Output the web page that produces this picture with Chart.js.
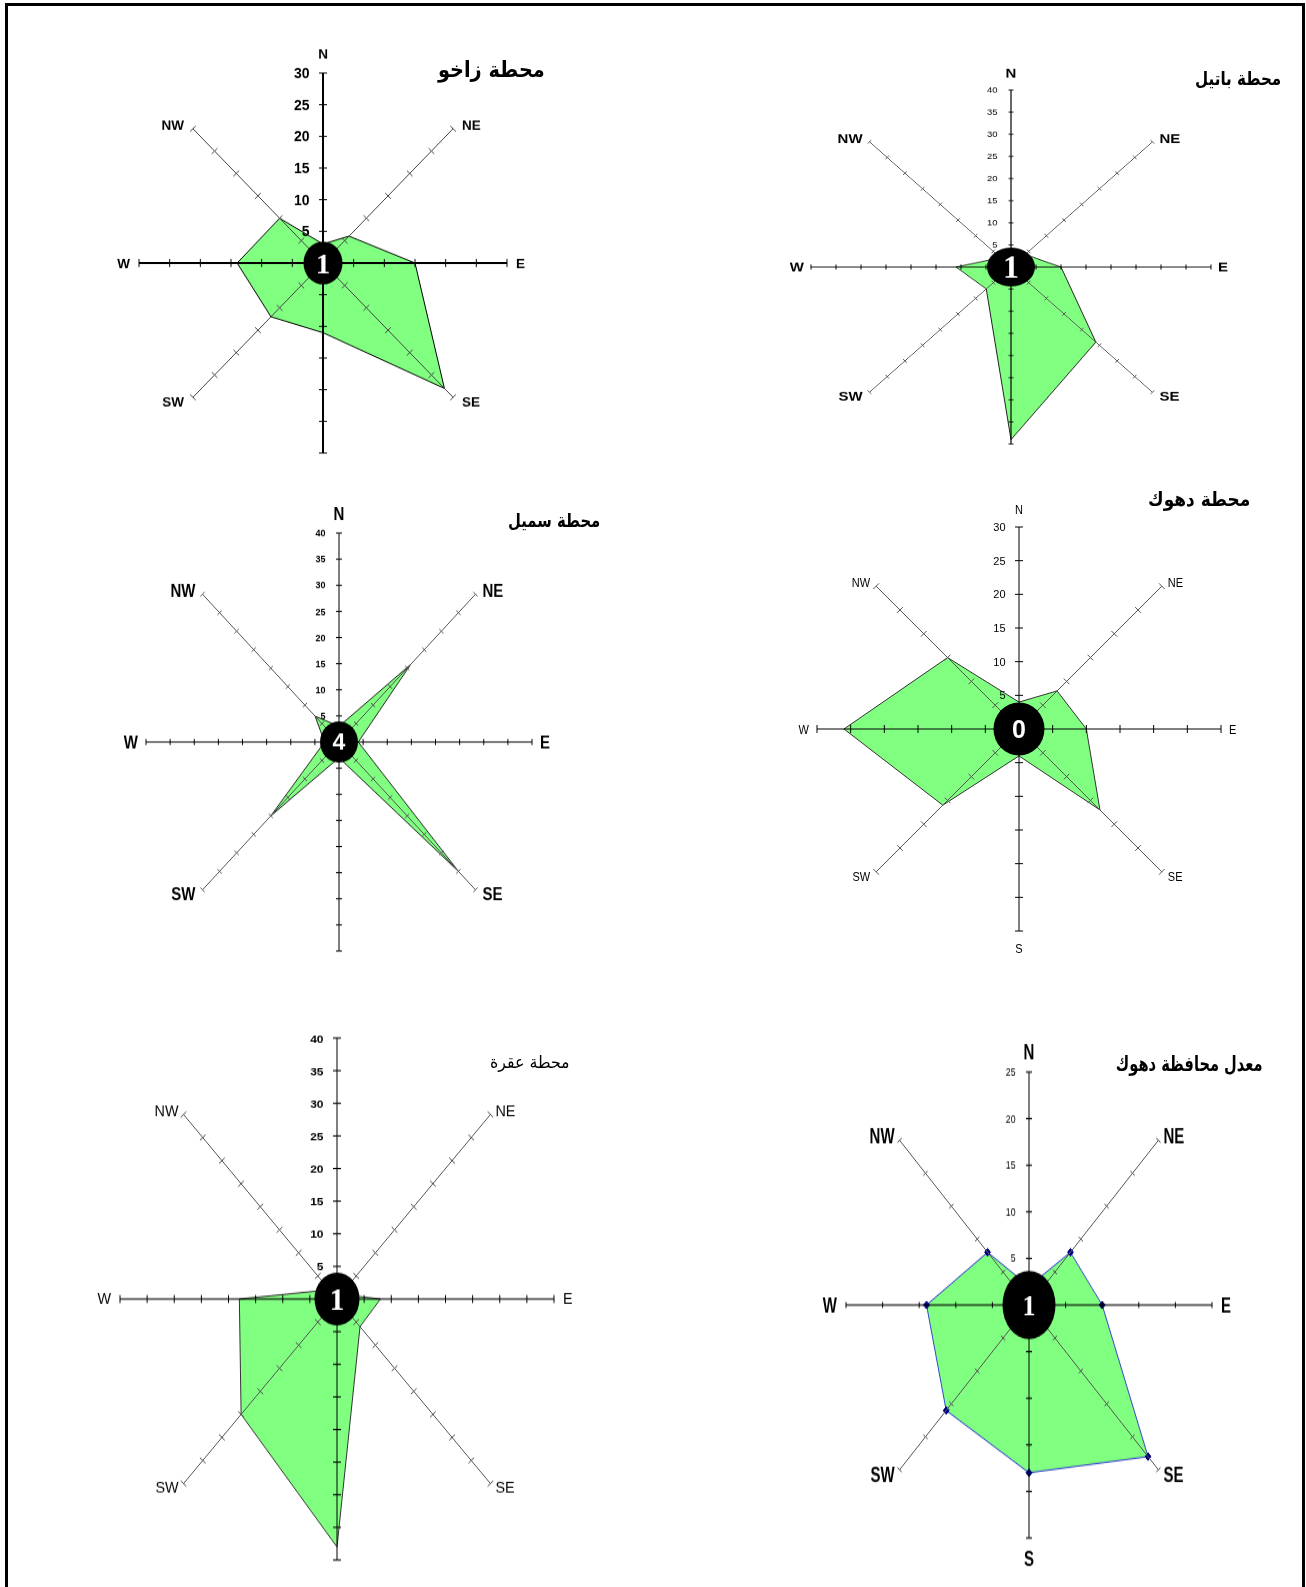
<!DOCTYPE html>
<html>
<head>
<meta charset="utf-8">
<script src="https://cdn.jsdelivr.net/npm/chart.js@4.4.1/dist/chart.umd.min.js"></script>
<style>
  html, body { margin: 0; padding: 0; background: #fff; }
  body { width: 1306px; height: 1587px; position: relative; overflow: hidden; }
  #frame { position: absolute; left: 5px; top: 3px; width: 1294px; height: 1600px; border: 3px solid #000; }
  .rose { position: absolute; }
  .rose canvas { display: block; }
  .title { position: absolute; font-family: "DejaVu Sans", sans-serif; white-space: nowrap; direction: rtl; line-height: 1; transform-origin: 100% 50%; }
</style>
</head>
<body>
<div id="frame"></div>
<script>
// wind frequency (%) per direction, clockwise from north
const directions = ['N', 'NE', 'E', 'SE', 'S', 'SW', 'W', 'NW'];
const zakho   = [3, 6, 15, 28, 11, 12, 14, 10];
const batifa  = [1, 4, 10, 24, 39, 7, 11, 3];
const sumail  = [3, 21, 4, 35, 3, 20, 3, 7];
const duhok   = [4, 8, 10, 17, 4, 16, 26, 15];
const aqra    = [1, 1, 8, 6, 38, 25, 18, 2];
const average = [2, 8, 10, 23, 18, 16, 14, 8];
const stations = [zakho, batifa, sumail, duhok, aqra, average];

// calm percentage written in the middle of each rose
const calm = [1, 1, 4, 0, 1, 1];
const axisMax = [30, 40, 40, 30, 40, 25];
const tickStep = 5;
const titles = ['محطة زاخو', 'محطة باتيل', 'محطة سميل', 'محطة دهوك', 'محطة عقرة', 'معدل محافظة دهوك'];

// placement and look of every rose (page pixels)
const layouts = [
  { cx: 322.7, cy: 263.3, rx: 184, ry: 190,
    title: { right: 545, cy: 70, size: 22, width: 107, weight: 'bold' },
    label: ['bold', 13.5, 1], tick: ['bold', 14, 1.05],
    gapH: 9, gapD: 9, gapN: 19, gapS: 18, showN: true, showS: false,
    ewWidth: 2, nsWidth: 2, diagColor: '#444', mark: 4,
    border: '#000', points: 0,
    calmBox: [39, 43], calmFont: ['Liberation Serif', 29, 1] },
  { cx: 1010.7, cy: 266.7, rx: 200, ry: 177,
    title: { right: 1280.7, cy: 78, size: 19, width: 86, weight: 'bold' },
    label: ['bold', 15, 0.9], tick: ['normal', 9.5, 0.85],
    gapH: 7, gapD: 7, gapN: 17, gapS: 17, showN: true, showS: false,
    ewWidth: 1, nsWidth: 1.2, diagColor: '#555', mark: 2.5,
    border: '#222', points: 0,
    calmBox: [48, 39], calmFont: ['Liberation Serif', 32, 1] },
  { cx: 339.3, cy: 742.3, rx: 193, ry: 209,
    title: { right: 600, cy: 520, size: 19, width: 92, weight: 'bold' },
    label: ['bold', 15, 1.2], tick: ['bold', 9, 1.05],
    gapH: 8, gapD: 7, gapN: 19, gapS: 18, showN: true, showS: false,
    ewWidth: 1, nsWidth: 1, diagColor: '#555', mark: 3,
    border: '#222', points: 0,
    calmBox: [38, 41], calmFont: ['Liberation Sans', 23, 1] },
  { cx: 1019.3, cy: 729.3, rx: 202, ry: 202,
    title: { right: 1250, cy: 499, size: 20, width: 102, weight: 'bold' },
    label: ['normal', 11, 1.18], tick: ['normal', 11, 1],
    gapH: 8, gapD: 6, gapN: 18, gapS: 17, showN: true, showS: true,
    ewWidth: 1, nsWidth: 1, diagColor: '#555', mark: 4,
    border: '#333', points: 0,
    calmBox: [51, 53], calmFont: ['Liberation Sans', 25, 1] },
  { cx: 336.7, cy: 1299, rx: 217, ry: 261,
    title: { right: 570, cy: 1062, size: 17, width: 80, weight: 'normal' },
    label: ['normal', 14.4, 1], tick: ['bold', 12, 1],
    gapH: 9, gapD: 5, gapN: 18, gapS: 18, showN: false, showS: false,
    ewWidth: 1, nsWidth: 1, diagColor: '#555', mark: 4,
    border: '#333', points: 0,
    calmBox: [45, 53], calmFont: ['Liberation Serif', 30, 1] },
  { cx: 1028.5, cy: 1305, rx: 183, ry: 233,
    title: { right: 1263.3, cy: 1064, size: 21, width: 147, weight: 'bold' },
    label: ['bold', 15, 1.42], tick: ['normal', 8.7, 1.22],
    gapH: 9, gapD: 5, gapN: 21, gapS: 20, showN: true, showS: true,
    ewWidth: 1, nsWidth: 1, diagColor: '#555', mark: 3,
    border: '#3344cc', points: 3,
    calmBox: [53, 68], calmFont: ['Liberation Serif', 26, 1.1] }
];

function seg(ctx, x1, y1, x2, y2) {
  ctx.beginPath();
  ctx.moveTo(x1, y1);
  ctx.lineTo(x2, y2);
  ctx.stroke();
}

// text centred vertically on y, with its own vertical stretch k
function label(ctx, str, x, y, size, k) {
  ctx.save();
  ctx.translate(x, y);
  ctx.scale(1, k);
  ctx.fillText(str, 0, 0.36 * size);
  ctx.restore();
}

// spokes, tick marks, labels and the calm disc on top of the filled polygon
function makeDecor(L, calmValue) {
  return {
    id: 'roseDecor',
    afterDatasetsDraw(chart) {
      const ctx = chart.ctx;
      const r = chart.scales.r;
      const cx = r.xCenter, cy = r.yCenter;
      const sy = L.ry / L.rx;
      ctx.save();

      directions.forEach((d, i) => {
        const end = r.getPointPositionForValue(i, r.max);
        const diag = i % 2 === 1;
        ctx.strokeStyle = diag ? L.diagColor : '#000';
        ctx.lineWidth = diag ? 1 : (i === 2 || i === 6 ? L.ewWidth : L.nsWidth);
        seg(ctx, cx, cy, end.x, end.y);
        const a = r.getIndexAngle(i);
        const ux = Math.cos(a), uy = Math.sin(a);
        ctx.lineWidth = 1;
        r.ticks.forEach(t => {
          if (t.value <= 0) return;
          const p = r.getPointPositionForValue(i, t.value);
          seg(ctx, p.x - ux * L.mark, p.y - uy * L.mark / sy, p.x + ux * L.mark, p.y + uy * L.mark / sy);
        });
      });

      // value labels along the north spoke
      ctx.fillStyle = '#000';
      ctx.textAlign = 'right';
      ctx.textBaseline = 'alphabetic';
      ctx.font = `${L.tick[0]} ${L.tick[1]}px "Liberation Sans"`;
      r.ticks.forEach(t => {
        if (t.value <= 0) return;
        const p = r.getPointPositionForValue(0, t.value);
        label(ctx, t.label, p.x - 13.5, p.y, L.tick[1], L.tick[2] / sy);
      });

      // compass letters
      const hx = [0, 1, 1, 1, 0, -1, -1, -1];
      const vy = [-1, -1, 0, 1, 1, 1, 0, -1];
      ctx.font = `${L.label[0]} ${L.label[1]}px "Liberation Sans"`;
      directions.forEach((d, i) => {
        if (i === 0 && !L.showN) return;
        if (i === 4 && !L.showS) return;
        const e = r.getPointPositionForValue(i, r.max);
        let x = e.x, y = e.y;
        if (hx[i] === 0) {
          ctx.textAlign = 'center';
          y += (i === 0 ? -L.gapN : L.gapS) / sy;
        } else if (vy[i] === 0) {
          ctx.textAlign = hx[i] > 0 ? 'left' : 'right';
          x += hx[i] * L.gapH;
        } else {
          ctx.textAlign = hx[i] > 0 ? 'left' : 'right';
          x += hx[i] * L.gapD;
          y += vy[i] * 4 / sy;
        }
        label(ctx, d, x, y, L.label[1], L.label[2] / sy);
      });

      // calm disc
      ctx.fillStyle = '#000';
      ctx.beginPath();
      ctx.ellipse(cx, cy, L.calmBox[0] / 2, L.calmBox[1] / 2 / sy, 0, 0, Math.PI * 2);
      ctx.fill();
      ctx.fillStyle = '#fff';
      ctx.textAlign = 'center';
      ctx.font = `bold ${L.calmFont[1]}px "${L.calmFont[0]}"`;
      label(ctx, String(calmValue), cx, cy, L.calmFont[1] * 0.95, L.calmFont[2] / sy);
      ctx.restore();
    }
  };
}

layouts.forEach((L, k) => {
  const pad = 90;
  const half = pad + L.rx;
  const size = 2 * half;
  const wrap = document.createElement('div');
  wrap.className = 'rose';
  wrap.style.left = (L.cx - half) + 'px';
  wrap.style.top = (L.cy - half) + 'px';
  wrap.style.width = size + 'px';
  wrap.style.height = size + 'px';
  wrap.style.transformOrigin = `${half}px ${half}px`;
  wrap.style.transform = `scale(1, ${L.ry / L.rx})`;
  const canvas = document.createElement('canvas');
  canvas.width = size;
  canvas.height = size;
  wrap.appendChild(canvas);
  document.body.appendChild(wrap);

  new Chart(canvas, {
    type: 'radar',
    data: {
      labels: directions,
      datasets: [{
        data: stations[k],
        backgroundColor: '#80ff80',
        borderColor: L.border,
        borderWidth: 1,
        fill: true,
        tension: 0,
        pointRadius: L.points,
        pointStyle: 'rectRot',
        pointBackgroundColor: '#000080',
        pointBorderColor: '#000080'
      }]
    },
    options: {
      responsive: false,
      animation: false,
      devicePixelRatio: 1,
      layout: { padding: pad },
      plugins: { legend: { display: false }, tooltip: { enabled: false } },
      scales: {
        r: {
          min: 0,
          max: axisMax[k],
          ticks: { display: false, stepSize: tickStep },
          grid: { display: false },
          angleLines: { display: false },
          pointLabels: { display: false }
        }
      }
    },
    plugins: [makeDecor(L, calm[k])]
  });
});

// station names, right-aligned above each rose
titles.forEach((t, k) => {
  const T = layouts[k].title;
  const el = document.createElement('div');
  el.className = 'title';
  el.textContent = t;
  el.style.fontSize = T.size + 'px';
  el.style.fontWeight = T.weight;
  document.body.appendChild(el);
  const w = el.offsetWidth, h = el.offsetHeight;
  el.style.left = (T.right - w) + 'px';
  el.style.top = (T.cy - h / 2) + 'px';
  el.style.transform = `scaleX(${T.width / w})`;
});
</script>
</body>
</html>
